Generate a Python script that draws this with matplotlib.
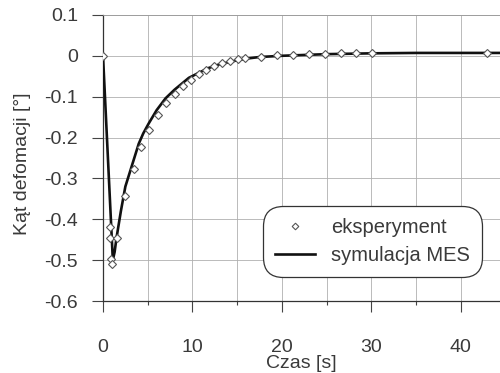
import numpy as np
import matplotlib
matplotlib.use("Agg")
from matplotlib import pyplot as plt
from matplotlib.ticker import MultipleLocator

## data
##------------------------------------------------------------------------

# eksperyment (open diamonds)
exp_t = [0.0, 0.8, 0.8, 0.9, 1.0, 1.6, 2.5, 3.5, 4.3, 5.2, 6.1, 7.0, 8.0,
         8.9, 9.8, 10.7, 11.5, 12.4, 13.3, 14.2, 15.1, 15.9, 17.7, 19.5,
         21.2, 23.0, 24.8, 26.6, 28.3, 30.1, 42.9]
exp_y = [0.0, -0.42, -0.447, -0.497, -0.51, -0.447, -0.344, -0.277, -0.223,
         -0.182, -0.145, -0.115, -0.093, -0.073, -0.059, -0.044, -0.034,
         -0.025, -0.017, -0.012, -0.008, -0.006, -0.003, 0.002, 0.003,
         0.005, 0.005, 0.006, 0.006, 0.007, 0.007]

# symulacja MES (solid line)
sim_t = [0.0, 1.1, 1.3, 1.5, 2.0, 2.5, 3.0, 3.5, 4.0, 4.5, 5.1, 6.0, 7.0,
         8.0, 9.6, 10.5, 11.8, 13.0, 14.8, 16.0, 17.5, 20.0, 25.0, 30.0,
         35.0, 40.0, 45.0]
sim_y = [0.0, -0.50, -0.48, -0.447, -0.38, -0.32, -0.285, -0.25, -0.215,
         -0.19, -0.166, -0.133, -0.104, -0.083, -0.054, -0.044, -0.030,
         -0.021, -0.012, -0.007, -0.003, 0.0, 0.004, 0.006, 0.007, 0.007,
         0.007]

x_ticks = [0, 10, 20, 30, 40]
y_ticks = [0.1, 0, -0.1, -0.2, -0.3, -0.4, -0.5, -0.6]
y_tick_labels = ["0.1", "0", "-0.1", "-0.2", "-0.3", "-0.4", "-0.5", "-0.6"]

## plot
##------------------------------------------------------------------------

plt.rcParams['font.family'] = ['Liberation Sans', 'DejaVu Sans']
txt = '#3a3a3a'

fig = plt.figure(figsize=(5, 3.73), dpi=100)
ax = fig.add_axes([0.206, 0.193, 0.794, 0.767])

ax.plot(sim_t, sim_y, color='#111111', lw=1.9, zorder=3,
        label='symulacja MES')
ax.plot(exp_t, exp_y, ls='none', marker='D', ms=4.2, mfc='white',
        mec='#555555', mew=0.8, zorder=4, label='eksperyment')

ax.set_xlim(0, 44.4)
ax.set_ylim(-0.6, 0.1)
ax.set_xticks(x_ticks)
ax.xaxis.set_minor_locator(MultipleLocator(5))
ax.set_yticks(y_ticks)
ax.set_yticklabels(y_tick_labels)

ax.grid(True, which='both', color='#b0b0b0', lw=0.6)
ax.set_axisbelow(True)

ax.tick_params(axis='x', which='major', direction='out', length=8,
               width=0.8, pad=19, labelsize=14, colors='#444444',
               labelcolor=txt)
ax.tick_params(axis='x', which='minor', direction='out', length=3,
               width=0.8, colors='#444444')
ax.tick_params(axis='y', direction='out', length=8, width=0.8, pad=10,
               labelsize=14, colors='#444444', labelcolor=txt)

for s in ['left', 'bottom']:
  ax.spines[s].set_color('#333333')
  ax.spines[s].set_linewidth(0.9)
ax.spines['top'].set_color('#999999')
ax.spines['top'].set_linewidth(0.6)
ax.spines['right'].set_visible(False)

ax.set_xlabel('Czas [s]', fontsize=14, color=txt, labelpad=-0.5)
fig.text(0.046, 1 - 164 / 373, 'Kąt defomacji [°]', rotation=90,
         ha='center', va='center', fontsize=14, color=txt)

handles, labels = ax.get_legend_handles_labels()
leg = ax.legend(handles[::-1], labels[::-1], loc='lower left',
                bbox_to_anchor=(0.403, 0.084), borderaxespad=0,
                fontsize=14.5, handlelength=2.0, handletextpad=0.8,
                labelspacing=0.45, borderpad=0.6, fancybox=True,
                framealpha=1, edgecolor='#333333', markerscale=0.8)
leg.get_frame().set_boxstyle('round', pad=0, rounding_size=1.0)
leg.get_frame().set_linewidth(0.9)
for t in leg.get_texts():
  t.set_color(txt)

fig.savefig('out.png', dpi=100)
